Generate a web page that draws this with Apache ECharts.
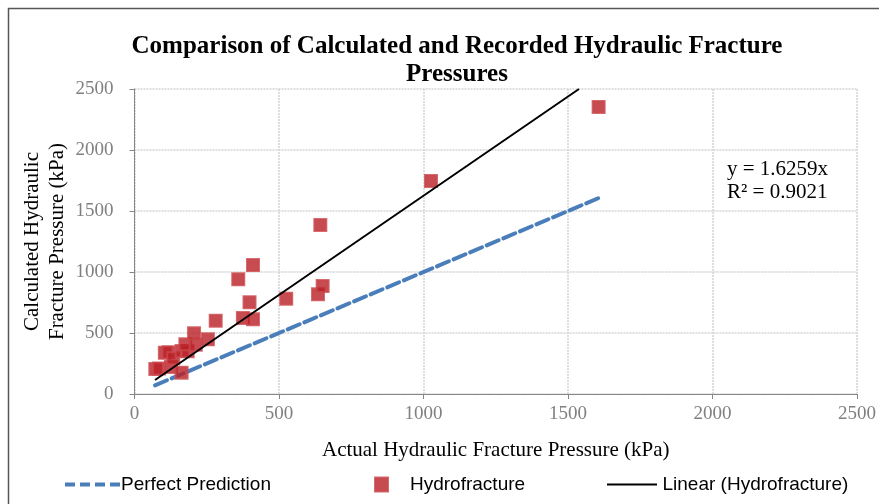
<!DOCTYPE html>
<html><head><meta charset="utf-8">
<script src="https://cdn.jsdelivr.net/npm/echarts@6/dist/echarts.min.js"></script>
<style>html,body{margin:0;padding:0;background:#fff}#c{width:879px;height:504px}</style>
</head><body><div id="c"></div>
<script>
// Data
const actualX = [72, 85, 105, 118, 126, 134, 163, 163, 184, 176, 212, 206, 254, 281, 359, 375, 398, 410, 410, 525, 635, 651, 643, 1026, 1606];
const calcY   = [205, 210, 338, 343, 222, 293, 175, 352, 350, 407, 404, 497, 448, 601, 940, 623, 752, 612, 1057, 781, 817, 885, 1385, 1746, 2353];
const perfectLine = [[71, 71], [1606, 1606]];
const trendLine = [[71, 115], [1538, 2500]];
const xTicks = [0, 500, 1000, 1500, 2000, 2500];
const yTicks = [0, 500, 1000, 1500, 2000, 2500];
const eqText = ['y = 1.6259x', 'R² = 0.9021'];

const serif = '"Liberation Serif","Times New Roman",serif';
const sans = '"Liberation Sans",Arial,sans-serif';
const hydro = actualX.map((x, i) => [x, calcY[i]]);

const chart = echarts.init(document.getElementById('c'), null, {renderer: 'canvas'});
chart.setOption({
  animation: false,
  backgroundColor: '#fff',
  title: {
    text: 'Comparison of Calculated and Recorded Hydraulic Fracture\nPressures',
    left: 452, top: 28, textAlign: 'center',
    textStyle: {fontFamily: serif, fontWeight: 'bold', fontSize: 25, color: '#000', lineHeight: 28}
  },
  grid: {left: 134.5, right: 19.5, top: 89, bottom: 110, containLabel: false},
  xAxis: {
    type: 'value', min: 0, max: 2500, interval: 500,
    name: 'Actual Hydraulic Fracture Pressure (kPa)', nameLocation: 'middle', nameGap: 46,
    nameTextStyle: {fontFamily: serif, fontSize: 21, color: '#000'},
    axisLine: {show: true, lineStyle: {color: '#868686', width: 1}},
    axisTick: {show: true, length: 5, lineStyle: {color: '#868686'}},
    axisLabel: {fontFamily: serif, fontSize: 19, color: '#808080', margin: 11,
      formatter: v => xTicks.includes(v) ? String(v) : ''},
    splitLine: {show: true, lineStyle: {color: '#d4d4d4', type: [2, 1], width: 1.5}}
  },
  yAxis: {
    type: 'value', min: 0, max: 2500, interval: 500,
    name: 'Calculated Hydraulic\nFracture Pressure (kPa)', nameLocation: 'middle', nameGap: 65,
    nameMoveOverlap: false,
    nameTextStyle: {fontFamily: serif, fontSize: 21, color: '#000', lineHeight: 25},
    axisLine: {show: true, lineStyle: {color: '#868686', width: 1}},
    axisTick: {show: true, length: 5, lineStyle: {color: '#868686'}},
    axisLabel: {fontFamily: serif, fontSize: 19, color: '#808080', margin: 21,
      formatter: v => yTicks.includes(v) ? String(v) : ''},
    splitLine: {show: true, lineStyle: {color: '#d4d4d4', type: [2, 1], width: 1.5}}
  },
  legend: [
    {data: [{name: 'Perfect Prediction', icon: 'path://M0,0H10V4H0Z M15,0H25V4H15Z M30,0H40V4H30Z M45,0H55V4H45Z'}],
     left: 60, top: 470, itemWidth: 55, itemHeight: 4, itemGap: 4,
     textStyle: {fontFamily: sans, fontSize: 19, color: '#000', padding: [0, 0, 0, -4]}},
    {data: [{name: 'Hydrofracture', icon: 'rect'}], left: 369, top: 470, itemWidth: 13, itemHeight: 14,
     textStyle: {fontFamily: sans, fontSize: 19, color: '#000', padding: [0, 0, 0, 17]}},
    {data: [{name: 'Linear (Hydrofracture)', icon: 'path://M0,0H50V2H0Z'}], left: 602, top: 470, itemWidth: 51, itemHeight: 2,
     textStyle: {fontFamily: sans, fontSize: 19, color: '#000', padding: [0, 0, 0, 0]}}
  ],
  series: [
    {name: 'Perfect Prediction', type: 'line', data: perfectLine, symbol: 'none',
     lineStyle: {color: '#4a7ebb', width: 4, type: [13, 5], cap: 'round'}, itemStyle: {color: '#4a7ebb'}, z: 2},
    {name: 'Hydrofracture', type: 'scatter', data: hydro, symbol: 'rect', symbolSize: 12,
     itemStyle: {color: '#b91f25', borderColor: '#c9474c', borderWidth: 2}, z: 3},
    {name: 'Linear (Hydrofracture)', type: 'line', data: trendLine, symbol: 'none', clip: true,
     lineStyle: {color: '#000', width: 2}, itemStyle: {color: '#000'}, z: 4}
  ],
  graphic: [
    {type: 'text', left: 727, top: 158, style: {text: eqText.join('\n'), font: '21px ' + serif, fill: '#000', lineHeight: 23}},
    {type: 'polyline', shape: {points: [[8.5, 504], [8.5, 8.5], [879, 8.5]]}, style: {stroke: '#555', lineWidth: 1.5, fill: null}}
  ]
});
</script></body></html>
